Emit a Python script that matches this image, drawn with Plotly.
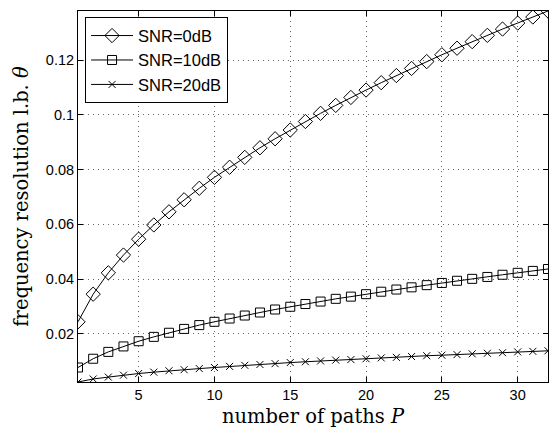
import plotly.graph_objects as go

P = list(range(1, 33))
snr0 = [0.0244, 0.0345, 0.0423, 0.0488, 0.0546, 0.0598, 0.0646, 0.0690, 0.0732, 0.0772,
        0.0809, 0.0845, 0.0880, 0.0913, 0.0945, 0.0976, 0.1006, 0.1035, 0.1064, 0.1091,
        0.1118, 0.1144, 0.1170, 0.1195, 0.1220, 0.1244, 0.1268, 0.1291, 0.1314, 0.1336,
        0.1358, 0.1380]
snr10 = [0.0077, 0.0109, 0.0134, 0.0154, 0.0173, 0.0189, 0.0204, 0.0218, 0.0232, 0.0244,
         0.0256, 0.0267, 0.0278, 0.0289, 0.0299, 0.0309, 0.0318, 0.0328, 0.0336, 0.0345,
         0.0354, 0.0362, 0.0370, 0.0378, 0.0386, 0.0394, 0.0401, 0.0408, 0.0416, 0.0423,
         0.0430, 0.0437]
snr20 = [0.0024, 0.0035, 0.0042, 0.0049, 0.0055, 0.0060, 0.0065, 0.0069, 0.0073, 0.0077,
         0.0081, 0.0085, 0.0088, 0.0091, 0.0095, 0.0098, 0.0101, 0.0104, 0.0106, 0.0109,
         0.0112, 0.0114, 0.0117, 0.0120, 0.0122, 0.0124, 0.0127, 0.0129, 0.0131, 0.0134,
         0.0136, 0.0138]
names = ["SNR=0dB", "SNR=10dB", "SNR=20dB"]
x_ticks = [5, 10, 15, 20, 25, 30]
y_ticks = [0.02, 0.04, 0.06, 0.08, 0.10, 0.12]
y_ticklabels = ["0.02", "0.04", "0.06", "0.08", "0.1", "0.12"]
x_title = "number of paths <i>P</i>"
y_title = "frequency resolution l.b. <i>θ</i>"

fig = go.Figure()
specs = [(snr0, "diamond-open", 11), (snr10, "square-open", 9), (snr20, "x-thin-open", 7)]
for (vals, sym, sz), nm in zip(specs, names):
    fig.add_trace(go.Scatter(
        x=P, y=vals, name=nm, mode="lines+markers",
        line=dict(color="black", width=1),
        marker=dict(symbol=sym, size=sz, color="black",
                    line=dict(color="black", width=1)),
    ))

axis_common = dict(
    showline=True, linecolor="black", linewidth=1, mirror="ticks",
    ticks="inside", ticklen=5, tickcolor="black",
    showgrid=True, gridcolor="#666666", griddash="1px,4px", gridwidth=1,
    zeroline=False, automargin=False,
    tickfont=dict(family="Liberation Sans, Arial", size=14.5, color="black"),
)

fig.update_xaxes(range=[1, 32], tickvals=x_ticks, **axis_common)
fig.update_yaxes(range=[0.0024, 0.138], tickvals=y_ticks, ticktext=y_ticklabels,
                 **axis_common)

title_font = dict(family="DejaVu Serif", size=19.5, color="black")
fig.add_annotation(text=x_title, xref="paper", yref="paper", x=0.5, y=-0.093,
                   xanchor="center", yanchor="middle", showarrow=False, font=title_font)
fig.add_annotation(text=y_title, xref="paper", yref="paper", x=-0.121, y=0.5,
                   xanchor="center", yanchor="middle", showarrow=False,
                   textangle=-90, font=title_font)

fig.update_layout(
    width=550, height=427,
    margin=dict(l=78, r=2, t=11, b=45),
    paper_bgcolor="white", plot_bgcolor="white",
    legend=dict(
        x=0.015, y=0.983, xanchor="left", yanchor="top",
        bgcolor="white", bordercolor="black", borderwidth=1,
        font=dict(family="Liberation Sans, Arial", size=16.5, color="black"),
        tracegroupgap=0, itemwidth=42,
    ),
)

fig.write_html(
    "out.html",
    config={"displayModeBar": False},
    post_script="document.body.style.margin='0';document.body.style.overflow='hidden';",
)
